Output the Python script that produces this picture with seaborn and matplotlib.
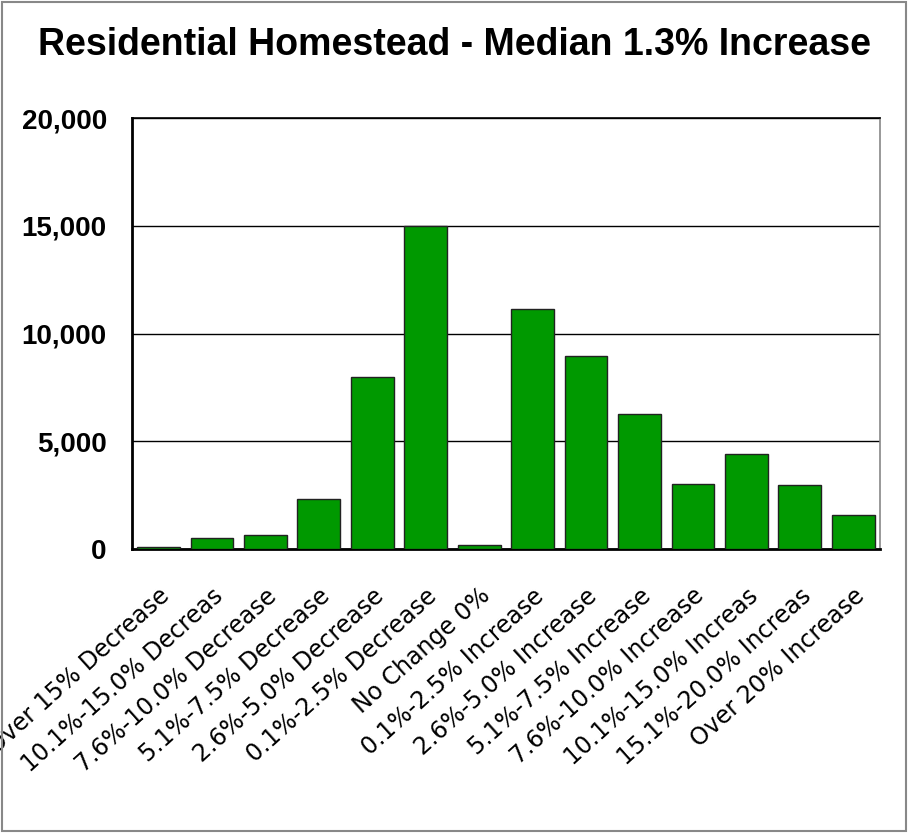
import seaborn as sns
import pandas as pd
import matplotlib.pyplot as plt
from matplotlib.patches import Rectangle

# bins of assessed value change and parcel counts
categories = ["Over 15% Decrease", "10.1%-15.0% Decreas", "7.6%-10.0% Decrease",
              "5.1%-7.5% Decrease", "2.6%-5.0% Decrease", "0.1%-2.5% Decrease",
              "No Change 0%", "0.1%-2.5% Increase", "2.6%-5.0% Increase",
              "5.1%-7.5% Increase", "7.6%-10.0% Increase", "10.1%-15.0% Increas",
              "15.1%-20.0% Increas", "Over 20% Increase"]
counts = [80, 530, 640, 2340, 8000, 14980, 170, 11130, 8980, 6270, 3020, 4390, 2990, 1570]
yticks = [0, 5000, 10000, 15000, 20000]
ytick_labels = ["0", "5,000", "10,000", "15,000", "20,000"]

sns.set_style("white")
plt.rcParams['font.family'] = ['Liberation Sans', 'DejaVu Sans']
plt.rcParams['text.color'] = 'black'
plt.rcParams['xtick.color'] = 'black'
plt.rcParams['ytick.color'] = 'black'

df = pd.DataFrame({"cat": categories, "n": counts})

fig = plt.figure(figsize=(9.09, 8.33), dpi=100)
ax = fig.add_axes([0.145, 0.341, 0.823, 0.517])

sns.barplot(data=df, x="cat", y="n", color="#009900", saturation=1, width=0.8,
            edgecolor="#222222", linewidth=1, ax=ax, zorder=3)

ax.set_ylim(0, 20000)
ax.set_xlim(-0.5, len(categories) - 0.5)
ax.set_yticks(yticks)
ax.set_yticklabels(ytick_labels, fontsize=20, fontweight="bold", color="black")
ax.tick_params(axis="y", length=0, pad=18)
ax.tick_params(axis="x", length=15, width=1, color="#444444", direction="out", pad=10)
ax.set_xticks(range(len(categories)))
ax.set_xticklabels(categories, rotation=42, ha="right", va="top",
                   rotation_mode="anchor", fontsize=17, family="DejaVu Sans",
                   color="black")
ax.set_xlabel("")
ax.set_ylabel("")
ax.yaxis.grid(True, color="black", linewidth=1)
ax.set_axisbelow(True)

for s in ["left", "bottom"]:
    ax.spines[s].set_color("black")
    ax.spines[s].set_linewidth(2)
ax.spines["top"].set_color("black")
ax.spines["top"].set_linewidth(1.2)
ax.spines["right"].set_color("#888888")
ax.spines["right"].set_linewidth(1.2)

fig.text(0.5, 0.946, "Residential Homestead - Median 1.3% Increase",
         ha="center", va="center", fontsize=27, fontweight="bold", color="black")

fig.patches.append(Rectangle((0.002, 0.002), 0.995, 0.996, transform=fig.transFigure,
                             fill=False, edgecolor="#888888", linewidth=1.5))

fig.savefig("out.png", dpi=100)
